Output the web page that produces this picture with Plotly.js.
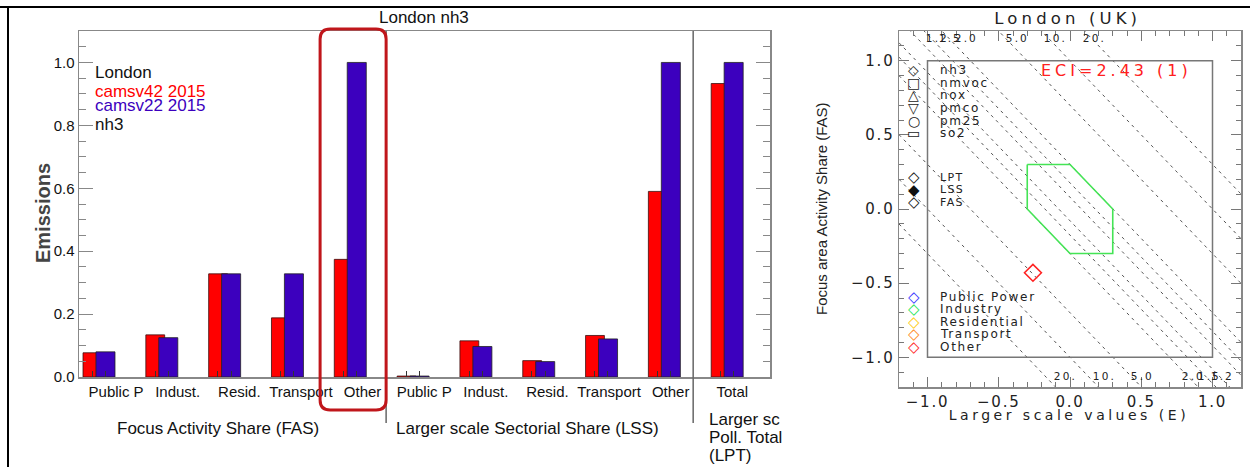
<!DOCTYPE html>
<html>
<head>
<meta charset="utf-8">
<script src="https://cdn.plot.ly/plotly-3.0.1.min.js"></script>
<style>
  html, body { margin: 0; padding: 0; background: #fff; }
  #chart { width: 1250px; height: 467px; }
  /* plotter-style wide lettering on the diamond diagram tick labels */
  g.x2tick text, g.y2tick text { letter-spacing: 0.12em; }
</style>
</head>
<body>
<div id="chart"></div>
<script>
// ---------------- left panel: normalised nh3 emissions, London ----------------
const sectorLabels = ['Public P', 'Indust.', 'Resid.', 'Transport', 'Other'];
const categories = sectorLabels.concat(sectorLabels, ['Total']);      // FAS | LSS | LPT
const camsv42 = [0.077, 0.134, 0.328, 0.188, 0.374, 0.003, 0.115, 0.052, 0.132, 0.590, 0.933];
const camsv22 = [0.080, 0.125, 0.328, 0.328, 1.000, 0.003, 0.097, 0.049, 0.121, 1.000, 1.000];
const inventoryNames = ['camsv42 2015', 'camsv22 2015'];
const inventoryColors = ['#ff0000', '#3c00be'];
const yTicks = [0, 0.2, 0.4, 0.6, 0.8, 1.0];
const groupTitles = ['Focus Activity Share (FAS)', 'Larger scale Sectorial Share (LSS)'];
const totalTitleLines = ['Larger sc', 'Poll. Total', '(LPT)'];

// ---------------- right panel: diamond diagram ----------------
const sectorNames = ['Public Power', 'Industry', 'Residential', 'Transport', 'Other'];
const sectorColors = ['#3333ff', '#22e655', '#ffcc11', '#ff8a22', '#ff2222'];
const pointSector = ['Other'];
const pointE = [-0.26];
const pointFAS = [-0.43];
const pollutantNames = ['nh3', 'nmvoc', 'nox', 'pmco', 'pm25', 'so2'];
const pollutantSymbols = ['\u25C7', '\u25A1', '\u25B3', '\u25BD', '\u25CB', '\u25AD'];
const shareNames = ['LPT', 'LSS', 'FAS'];
const shareSymbols = ['\u25C7', '\u25C6', '\u25C7'];
const ratioLevels = [1.2, 1.5, 2.0, 5.0, 10, 20];
const ratioLabels = ['1.2', '1.5', '2.0', '5.0', '10.', '20.'];
const tolerance = 0.3;
const eciText = 'ECI=2.43 (1)';
const diagTicks = [-1, -0.5, 0, 0.5, 1];

// ---------------- helpers ----------------
const W = 1250, H = 467;
const px = v => v / W;            // pixel column -> paper x
const py = v => 1 - v / H;        // pixel row    -> paper y
const LEFT_FONT = 'Liberation Sans, Arial, sans-serif';
const PLOT_FONT = 'DejaVu Sans';

const annotations = [];
const spacing = {};               // annotation index -> letter spacing (wide plotter lettering)
function note(o, wide) {
  if (wide) spacing[annotations.length] = wide;
  annotations.push(Object.assign({ showarrow: false, xanchor: 'center', yanchor: 'middle' }, o));
}

// ---------------- traces ----------------
const slot = categories.map((_, i) => i);
const traces = [
  {
    type: 'bar', x: slot, y: camsv42, name: inventoryNames[0],
    offset: 0.064, width: 0.30, xaxis: 'x', yaxis: 'y',
    marker: { color: inventoryColors[0], line: { color: '#3a1010', width: 0.8 } }
  },
  {
    type: 'bar', x: slot, y: camsv22, name: inventoryNames[1],
    offset: 0.27, width: 0.303, xaxis: 'x', yaxis: 'y',
    marker: { color: inventoryColors[1], line: { color: '#222', width: 0.8 } }
  }
];

// iso-ratio guide lines: E + FAS = +/- log10(ratio)
ratioLevels.forEach(r => {
  [1, -1].forEach(sgn => {
    const c = sgn * Math.log10(r);
    traces.push({
      type: 'scatter', mode: 'lines', xaxis: 'x2', yaxis: 'y2',
      x: [-1.2, 1.2], y: [c + 1.2, c - 1.2],
      line: { color: '#555', width: 1, dash: '3px,4px' }, hoverinfo: 'skip'
    });
  });
});

// acceptance region |E|, |FAS|, |E+FAS| <= tolerance
const t = tolerance;
traces.push({
  type: 'scatter', mode: 'lines', xaxis: 'x2', yaxis: 'y2',
  x: [-t, 0, t, t, 0, -t, -t], y: [t, t, 0, -t, -t, 0, t],
  line: { color: '#44e455', width: 1.6 }, hoverinfo: 'skip'
});

// sector points
traces.push({
  type: 'scatter', mode: 'markers', xaxis: 'x2', yaxis: 'y2',
  x: pointE, y: pointFAS, text: pointSector,
  marker: {
    symbol: 'diamond-open', size: 13,
    color: pointSector.map(s => sectorColors[sectorNames.indexOf(s)]),
    line: { width: 1.6 }
  }
});

// ---------------- left panel text ----------------
note({ text: 'London nh3', xref: 'paper', yref: 'paper', x: px(424), y: py(18),
       font: { family: LEFT_FONT, size: 17, color: '#111' } });
note({ text: 'London', xref: 'paper', yref: 'paper', x: px(93), y: py(72), xanchor: 'left', align: 'left',
       font: { family: LEFT_FONT, size: 17, color: '#111' } });
inventoryNames.forEach((n, i) => {
  note({ text: n, xref: 'paper', yref: 'paper', x: px(93), y: py(91 + 14 * i), xanchor: 'left', align: 'left',
         font: { family: LEFT_FONT, size: 17, color: inventoryColors[i] } });
});
note({ text: 'nh3', xref: 'paper', yref: 'paper', x: px(93), y: py(124), xanchor: 'left', align: 'left',
       font: { family: LEFT_FONT, size: 17, color: '#111' } });
note({ text: '<b>Emissions</b>', xref: 'paper', yref: 'paper', x: px(43), y: py(213), textangle: -90,
       font: { family: LEFT_FONT, size: 20, color: '#444' } });
note({ text: groupTitles[0], xref: 'paper', yref: 'paper', x: px(218), y: py(428),
       font: { family: LEFT_FONT, size: 17, color: '#111' } });
note({ text: groupTitles[1], xref: 'paper', yref: 'paper', x: px(527), y: py(428),
       font: { family: LEFT_FONT, size: 17, color: '#111' } });
totalTitleLines.forEach((s, i) => {
  note({ text: s, xref: 'paper', yref: 'paper', x: px(707), y: py(419 + 18 * i), xanchor: 'left', align: 'left',
         font: { family: LEFT_FONT, size: 17, color: '#111' } });
});

// ---------------- right panel text ----------------
note({ text: 'London (UK)', xref: 'paper', yref: 'paper', x: px(1068), y: py(19),
       font: { family: PLOT_FONT, size: 16.5, color: '#222' } }, '0.25em');
note({ text: eciText, xref: 'x2', yref: 'y2', x: -0.217, y: 0.936, xanchor: 'left', align: 'left',
       font: { family: PLOT_FONT, size: 16, color: '#ff2020' } }, '0.25em');
note({ text: 'Larger scale values (E)', xref: 'paper', yref: 'paper', x: px(1069), y: py(415),
       font: { family: PLOT_FONT, size: 14, color: '#222' } }, '0.25em');
note({ text: 'Focus area Activity Share (FAS)', xref: 'paper', yref: 'paper', x: px(821), y: py(209), textangle: -90,
       font: { family: LEFT_FONT, size: 15, color: '#222' } });

const symX = -1.098, labX = -0.925;
pollutantNames.forEach((n, i) => {
  const y = 0.936 - 0.085 * i;
  note({ text: pollutantSymbols[i], xref: 'x2', yref: 'y2', x: symX, y: y,
         font: { family: PLOT_FONT, size: 14, color: '#222' } });
  note({ text: n, xref: 'x2', yref: 'y2', x: labX, y: y, xanchor: 'left', align: 'left',
         font: { family: PLOT_FONT, size: 12, color: '#222' } }, '0.14em');
});
shareNames.forEach((n, i) => {
  const y = 0.215 - 0.085 * i;
  note({ text: shareSymbols[i], xref: 'x2', yref: 'y2', x: symX, y: y,
         font: { family: PLOT_FONT, size: 15, color: '#111', weight: i === 0 ? 'bold' : 'normal' } });
  note({ text: n, xref: 'x2', yref: 'y2', x: labX, y: y, xanchor: 'left', align: 'left',
         font: { family: PLOT_FONT, size: 11, color: '#222' } }, '0.12em');
});
sectorNames.forEach((n, i) => {
  const y = -0.593 - 0.084 * i;
  note({ text: '\u25C7', xref: 'x2', yref: 'y2', x: symX, y: y,
         font: { family: PLOT_FONT, size: 15, color: sectorColors[i] } });
  note({ text: n, xref: 'x2', yref: 'y2', x: labX, y: y, xanchor: 'left', align: 'left',
         font: { family: PLOT_FONT, size: 12, color: '#222' } }, '0.14em');
});
ratioLevels.forEach((r, i) => {
  const c = Math.log10(r);
  note({ text: ratioLabels[i], xref: 'x2', yref: 'y2', x: -1.0 + 0.9 * c, y: 1.155,
         font: { family: PLOT_FONT, size: 10.5, color: '#222' } }, '0.2em');
  note({ text: ratioLabels[i], xref: 'x2', yref: 'y2', x: 1.14 - 0.9 * c, y: -1.125,
         font: { family: PLOT_FONT, size: 10.5, color: '#222' } }, '0.2em');
});

// ---------------- shapes ----------------
const hx0 = 3.838, hx1 = 4.889, hy0 = py(410), hy1 = py(29), rx = 0.16, ry = 10 / H;
const roundRect = `M ${hx0 + rx},${hy1} L ${hx1 - rx},${hy1} Q ${hx1},${hy1} ${hx1},${hy1 - ry} ` +
  `L ${hx1},${hy0 + ry} Q ${hx1},${hy0} ${hx1 - rx},${hy0} L ${hx0 + rx},${hy0} ` +
  `Q ${hx0},${hy0} ${hx0},${hy0 + ry} L ${hx0},${hy1 - ry} Q ${hx0},${hy1} ${hx0 + rx},${hy1} Z`;

const shapes = [
  // page frame
  { type: 'line', xref: 'paper', yref: 'paper', x0: 0, x1: 1, y0: py(7), y1: py(7), line: { color: '#000', width: 2 } },
  { type: 'line', xref: 'paper', yref: 'paper', x0: px(8), x1: px(8), y0: 0, y1: py(7), line: { color: '#000', width: 2 } },
  // group dividers
  { type: 'line', xref: 'x', yref: 'paper', x0: 4.889, x1: 4.889, y0: py(423), y1: py(31), line: { color: '#666', width: 1.5 } },
  { type: 'line', xref: 'x', yref: 'paper', x0: 9.777, x1: 9.777, y0: py(423), y1: py(31), line: { color: '#666', width: 1.5 } },
  // highlight around the FAS "Other" group
  { type: 'path', xref: 'x', yref: 'paper', path: roundRect, line: { color: '#c0161b', width: 3 } },
  // unit square of the diamond diagram
  { type: 'rect', xref: 'x2', yref: 'y2', x0: -1, x1: 1, y0: -1, y1: 1, line: { color: '#777', width: 1.5 } }
];

// ---------------- axes ----------------
const labelPos = categories.map((_, i) => i + 0.59 - 0.019 * i);
const barTicks = [];
slot.forEach(i => { barTicks.push(i + 0.21, i + 0.42); });

const layout = {
  width: W, height: H, autosize: false,
  margin: { l: 0, r: 0, t: 0, b: 0, pad: 0 },
  paper_bgcolor: '#fff', plot_bgcolor: '#fff',
  showlegend: false, barmode: 'overlay',
  xaxis: {
    domain: [px(79), px(770)], range: [0, 11], anchor: 'y',
    tickmode: 'array', tickvals: labelPos, ticktext: categories, ticks: '',
    tickfont: { family: LEFT_FONT, size: 15, color: '#111' },
    minor: { tickmode: 'array', tickvals: barTicks, ticks: 'inside', ticklen: 6, tickcolor: '#333', tickwidth: 1 },
    showline: true, linecolor: '#888', linewidth: 1.5, mirror: true,
    showgrid: false, zeroline: false
  },
  yaxis: {
    domain: [py(377), py(31)], range: [0, 1.1], anchor: 'x',
    tickmode: 'array', tickvals: yTicks, tickformat: '.1f',
    ticks: 'inside', ticklen: 14, tickwidth: 1, tickcolor: '#888',
    minor: { dtick: 0.05, tick0: 0, ticks: 'inside', ticklen: 7, tickcolor: '#888', tickwidth: 1 },
    tickfont: { family: LEFT_FONT, size: 15, color: '#111' },
    showline: true, linecolor: '#888', linewidth: 1.5, mirror: 'allticks',
    showgrid: false, zeroline: false
  },
  xaxis2: {
    domain: [px(899), px(1241)], range: [-1.2, 1.2], anchor: 'y2',
    tickmode: 'array', tickvals: diagTicks, tickformat: '.1f',
    ticks: 'inside', ticklen: 10, tickwidth: 1, tickcolor: '#777',
    minor: { dtick: 0.1, tick0: 0, ticks: 'inside', ticklen: 5, tickcolor: '#777', tickwidth: 1 },
    tickfont: { family: PLOT_FONT, size: 15, color: '#222' },
    showline: true, linecolor: '#888', linewidth: 1.5, mirror: 'allticks',
    showgrid: false, zeroline: false
  },
  yaxis2: {
    domain: [py(387), py(31)], range: [-1.2, 1.2], anchor: 'x2',
    tickmode: 'array', tickvals: diagTicks, tickformat: '.1f',
    ticks: 'inside', ticklen: 10, tickwidth: 1, tickcolor: '#777',
    minor: { dtick: 0.1, tick0: 0, ticks: 'inside', ticklen: 5, tickcolor: '#777', tickwidth: 1 },
    tickfont: { family: PLOT_FONT, size: 15, color: '#222' },
    showline: true, linecolor: '#888', linewidth: 1.5, mirror: 'allticks',
    showgrid: false, zeroline: false
  },
  shapes: shapes,
  annotations: annotations
};

Plotly.newPlot('chart', traces, layout, { staticPlot: true, displayModeBar: false }).then(gd => {
  gd.querySelectorAll('g.annotation').forEach(g => {
    const i = +g.getAttribute('data-index');
    if (spacing[i]) {
      const tx = g.querySelector('text');
      if (tx) tx.style.letterSpacing = spacing[i];
    }
  });
});
</script>
</body>
</html>
